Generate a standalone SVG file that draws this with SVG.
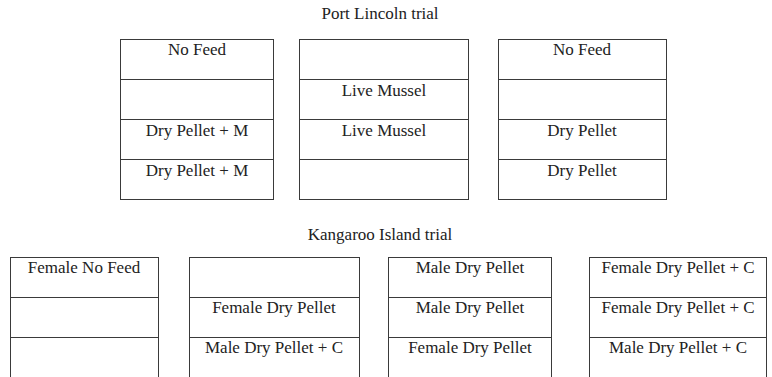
<svg xmlns="http://www.w3.org/2000/svg" width="772" height="377" viewBox="0 0 772 377">
<style>
.bx{fill:#fff;stroke:#3a3a3a;stroke-width:1}
.ln{stroke:#3a3a3a;stroke-width:1}
.t{font-family:"Liberation Serif","Times New Roman",serif;font-size:17px;fill:#222;text-anchor:middle}
</style>
<rect width="772" height="377" fill="#fff"/>
<text class="t" x="380" y="19">Port Lincoln trial</text>
<text class="t" x="380" y="240">Kangaroo Island trial</text>
<g id="pl-tank1">
<rect class="bx" x="120.5" y="39.5" width="153" height="160"/>
<line class="ln" x1="120.5" y1="79.5" x2="273.5" y2="79.5"/>
<line class="ln" x1="120.5" y1="119.5" x2="273.5" y2="119.5"/>
<line class="ln" x1="120.5" y1="159.5" x2="273.5" y2="159.5"/>
<text class="t" x="197" y="55">No Feed</text>
<text class="t" x="197" y="136">Dry Pellet + M</text>
<text class="t" x="197" y="176">Dry Pellet + M</text>
</g>
<g id="pl-tank2">
<rect class="bx" x="299.5" y="39.5" width="169" height="160"/>
<line class="ln" x1="299.5" y1="79.5" x2="468.5" y2="79.5"/>
<line class="ln" x1="299.5" y1="119.5" x2="468.5" y2="119.5"/>
<line class="ln" x1="299.5" y1="159.5" x2="468.5" y2="159.5"/>
<text class="t" x="384" y="96">Live Mussel</text>
<text class="t" x="384" y="136">Live Mussel</text>
</g>
<g id="pl-tank3">
<rect class="bx" x="498.5" y="39.5" width="168" height="160"/>
<line class="ln" x1="498.5" y1="79.5" x2="666.5" y2="79.5"/>
<line class="ln" x1="498.5" y1="119.5" x2="666.5" y2="119.5"/>
<line class="ln" x1="498.5" y1="159.5" x2="666.5" y2="159.5"/>
<text class="t" x="582" y="55">No Feed</text>
<text class="t" x="582" y="136">Dry Pellet</text>
<text class="t" x="582" y="176">Dry Pellet</text>
</g>
<g id="ki-tank1">
<rect class="bx" x="10.5" y="257.5" width="148" height="122"/>
<line class="ln" x1="10.5" y1="297.5" x2="158.5" y2="297.5"/>
<line class="ln" x1="10.5" y1="337.5" x2="158.5" y2="337.5"/>
<text class="t" x="84" y="273">Female No Feed</text>
</g>
<g id="ki-tank2">
<rect class="bx" x="189.5" y="257.5" width="170" height="122"/>
<line class="ln" x1="189.5" y1="297.5" x2="359.5" y2="297.5"/>
<line class="ln" x1="189.5" y1="337.5" x2="359.5" y2="337.5"/>
<text class="t" x="274" y="313">Female Dry Pellet</text>
<text class="t" x="274" y="353">Male Dry Pellet + C</text>
</g>
<g id="ki-tank3">
<rect class="bx" x="388.5" y="257.5" width="163" height="122"/>
<line class="ln" x1="388.5" y1="297.5" x2="551.5" y2="297.5"/>
<line class="ln" x1="388.5" y1="337.5" x2="551.5" y2="337.5"/>
<text class="t" x="470" y="273">Male Dry Pellet</text>
<text class="t" x="470" y="313">Male Dry Pellet</text>
<text class="t" x="470" y="353">Female Dry Pellet</text>
</g>
<g id="ki-tank4">
<rect class="bx" x="589.5" y="257.5" width="177" height="122"/>
<line class="ln" x1="589.5" y1="297.5" x2="766.5" y2="297.5"/>
<line class="ln" x1="589.5" y1="337.5" x2="766.5" y2="337.5"/>
<text class="t" x="678" y="273">Female Dry Pellet + C</text>
<text class="t" x="678" y="313">Female Dry Pellet + C</text>
<text class="t" x="678" y="353">Male Dry Pellet + C</text>
</g>
<g id="connectors"/>
</svg>
